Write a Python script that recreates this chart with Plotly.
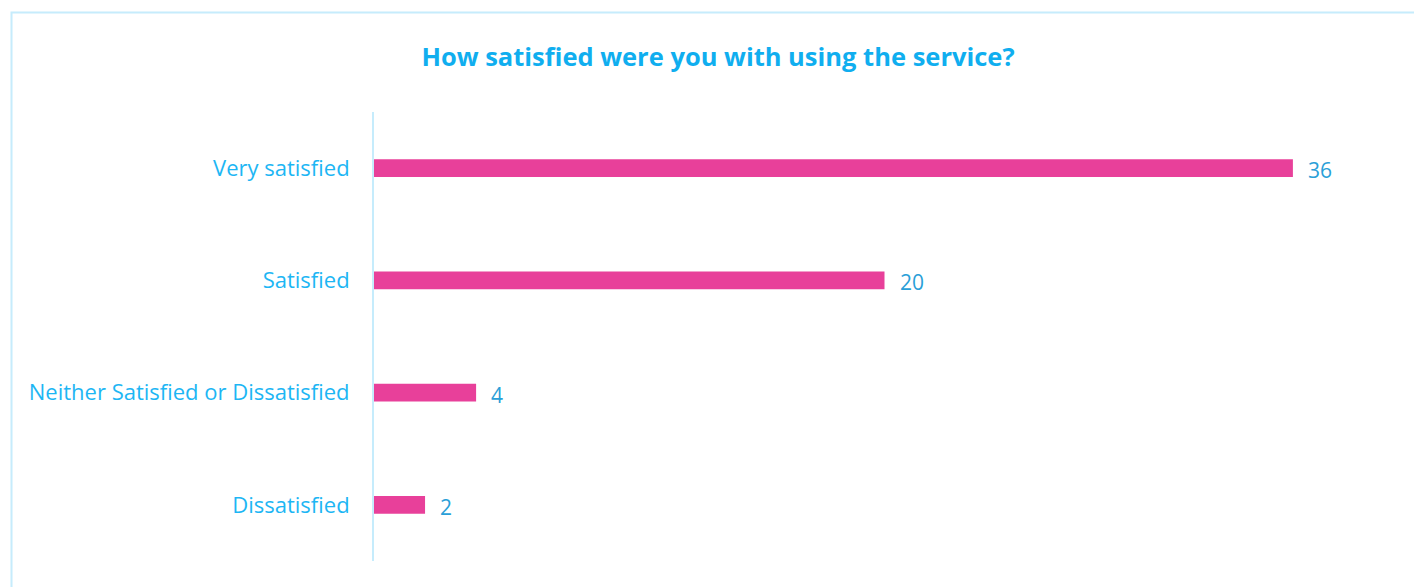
import plotly.graph_objects as go

# Survey responses
categories = ["Very satisfied", "Satisfied", "Neither Satisfied or Dissatisfied", "Dissatisfied"]
counts = [36, 20, 4, 2]

title_text = "How satisfied were you with using the service?"

W, H = 1414, 587
L, R, T, B = 374, 19, 112, 26
plot_w = W - L - R
plot_h = H - T - B

bar_color = "#E8409A"
label_color = "#1DB6F4"
value_color = "#2A9FD8"
line_color = "#C6ECFC"
font_family = "'Open Sans', Lato, sans-serif"

fig = go.Figure()
fig.add_trace(go.Bar(
    x=counts,
    y=categories,
    orientation="h",
    width=0.16,
    marker=dict(color=bar_color, line=dict(width=0)),
    hoverinfo="x+y",
))

# value labels just past the end of each bar
for c, v in zip(categories, counts):
    fig.add_annotation(
        x=v, y=c, text=str(v), xref="x", yref="y",
        xanchor="left", yanchor="middle", xshift=13, yshift=-2,
        showarrow=False,
        font=dict(family=font_family, size=21, color=value_color),
    )

# outer frame of the card
fig.add_shape(
    type="rect", xref="paper", yref="paper",
    x0=(11.5 - L) / plot_w, x1=(W + 10 - L) / plot_w,
    y0=-(H + 10 - (T + plot_h)) / plot_h, y1=(T + plot_h - 12.5) / plot_h,
    line=dict(color=line_color, width=2), fillcolor="rgba(0,0,0,0)",
    layer="below",
)

fig.update_layout(
    width=W, height=H,
    margin=dict(l=L, r=R, t=T, b=B),
    paper_bgcolor="white", plot_bgcolor="white",
    showlegend=False,
    bargap=0.84,
    title=dict(
        text=title_text, x=718 / W, xanchor="center", y=1 - 57 / H, yanchor="middle",
        font=dict(family=font_family, size=25.5, color="#10AEEF", weight="bold"),
    ),
    font=dict(family=font_family),
)
fig.update_xaxes(
    range=[0, 40], showgrid=False, zeroline=False, showticklabels=False,
    showline=False, fixedrange=True,
)
fig.update_yaxes(
    categoryorder="array", categoryarray=categories[::-1],
    showgrid=False, zeroline=False, showline=True, linecolor=line_color, linewidth=2,
    ticks="", ticklabelstandoff=18,
    tickfont=dict(family=font_family, size=22, color=label_color),
    fixedrange=True,
)

fig.write_html("out.html")
